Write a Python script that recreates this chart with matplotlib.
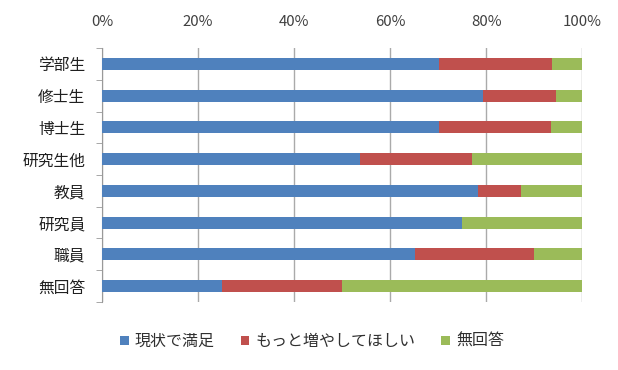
import numpy as np
import matplotlib.pyplot as plt
from matplotlib.ticker import PercentFormatter

plt.rcParams['font.family'] = ['Noto Sans CJK JP', 'DejaVu Sans']

# データ (%)
categories = ['学部生', '修士生', '博士生', '研究生他', '教員', '研究員', '職員', '無回答']
satisfied = [70.2, 79.4, 70.2, 53.75, 78.4, 75.0, 65.1, 25.0]
want_more = [23.55, 15.2, 23.4, 23.25, 8.8, 0.0, 24.9, 25.0]
no_answer = [6.25, 5.4, 6.4, 23.0, 12.8, 25.0, 10.0, 50.0]
series_names = ['現状で満足', 'もっと増やしてほしい', '無回答']
colors = ['#4F81BD', '#C0504D', '#9BBB59']

fig = plt.figure(figsize=(6.18, 3.70), dpi=100)
ax = fig.add_axes([0.165, 0.184, 0.777, 0.686])

y = np.arange(len(categories))
left = np.zeros(len(categories))
for vals, name, c in zip([satisfied, want_more, no_answer], series_names, colors):
    ax.barh(y, vals, left=left, height=0.38, color=c, label=name, zorder=3)
    left = left + np.array(vals)

ax.set_xlim(0, 100)
ax.set_ylim(len(categories) - 0.5, -0.5)
ax.xaxis.tick_top()
ax.set_xticks(np.arange(0, 101, 20))
ax.xaxis.set_major_formatter(PercentFormatter(decimals=0))
ax.tick_params(axis='x', length=0, pad=14, labelsize=10.8, colors='#404040')
ax.set_yticks(y)
ax.set_yticklabels(categories)
ax.tick_params(axis='y', length=0, pad=12, labelsize=11.3, colors='#202020')
ax.set_yticks(np.arange(-0.5, len(categories)), minor=True)
ax.tick_params(axis='y', which='minor', length=4, color='#999999', direction='out')
ax.grid(axis='x', color='#AAAAAA', linewidth=1, zorder=0)

for s in ['top', 'right', 'bottom']:
    ax.spines[s].set_visible(False)
ax.spines['left'].set_color('#999999')

fig.legend(loc='lower center', bbox_to_anchor=(0.505, 0.015), ncol=3, frameon=False,
           fontsize=11.5, handlelength=0.55, handleheight=0.55, handletextpad=0.4,
           columnspacing=1.6, labelcolor='#303030')

plt.savefig('out.png')
